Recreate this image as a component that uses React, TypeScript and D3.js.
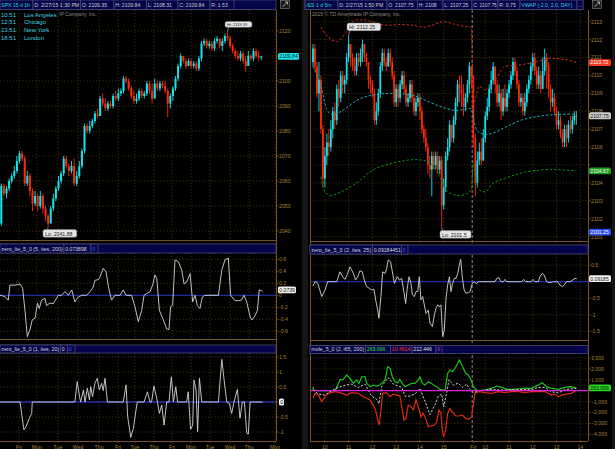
import React from 'react';
import * as d3 from 'd3';

// ---------------- DATA ----------------
// Left: SPX 15 d 1h candles (open of bar i = close of bar i-1)
const spxOpen0 = 2043;
const spxClose = [
  2058, 2055, 2057, 2060, 2062, 2064, 2068, 2071, 2069, 2059,
  2062, 2056, 2051, 2054, 2050, 2054, 2049, 2046, 2043, 2049,
  2053, 2057, 2060, 2063, 2069, 2066, 2064, 2066, 2059, 2062,
  2066, 2072, 2082, 2080, 2082, 2084, 2087, 2086, 2093, 2091,
  2089, 2091, 2090, 2094, 2093, 2095, 2096, 2101, 2100, 2097,
  2094, 2092, 2093, 2096, 2094, 2095, 2099, 2096, 2093, 2099,
  2097, 2099, 2098, 2096, 2091, 2094, 2097, 2101, 2106, 2110,
  2108, 2106, 2108, 2106, 2107, 2105, 2109, 2115, 2116, 2114,
  2115, 2113, 2116, 2117, 2114, 2116, 2118, 2117, 2114, 2112,
  2110, 2109, 2111, 2108, 2106, 2110, 2109, 2112, 2110, 2109.35,
  2109.84,
];
const spxHigh = [
  2059, 2059, 2058, 2061, 2063, 2066, 2070, 2072, 2072, 2070,
  2064, 2063, 2057, 2056, 2055, 2056, 2055, 2050, 2047, 2050,
  2055, 2058, 2062, 2064, 2070, 2070, 2067, 2068, 2069, 2064,
  2068, 2073, 2083, 2083, 2084, 2085, 2088, 2089, 2094, 2095,
  2093, 2092, 2092, 2095, 2096, 2097, 2097, 2102, 2102, 2101,
  2098, 2096, 2095, 2097, 2097, 2096, 2100, 2100, 2099, 2101,
  2100, 2100, 2100, 2100, 2097, 2095, 2098, 2102, 2107, 2111,
  2110, 2109, 2109, 2109, 2108, 2108, 2110, 2116, 2117, 2117,
  2116, 2116, 2117, 2118, 2117, 2117, 2119, 2119.59, 2118, 2115,
  2113, 2112, 2112, 2112, 2110, 2112, 2111, 2113, 2113, 2112,
  2110,
];
const spxLow = [
  2042, 2054, 2053, 2056, 2059, 2061, 2063, 2067, 2068, 2058,
  2058, 2054, 2048, 2050, 2048, 2049, 2047, 2044, 2041.88, 2043,
  2048, 2052, 2056, 2059, 2062, 2065, 2062, 2063, 2058, 2058,
  2061, 2065, 2071, 2079, 2079, 2081, 2083, 2085, 2086, 2090,
  2088, 2088, 2089, 2089, 2092, 2092, 2094, 2095, 2099, 2096,
  2093, 2091, 2091, 2092, 2093, 2093, 2094, 2095, 2091, 2093,
  2096, 2096, 2097, 2095, 2085.6, 2089, 2092, 2096, 2100, 2105,
  2107, 2105, 2106, 2105, 2105, 2104, 2104, 2108, 2114, 2113,
  2113, 2112, 2112, 2115, 2113, 2112, 2115, 2116, 2113, 2111,
  2109, 2108, 2108, 2107, 2103.7, 2106, 2108, 2108, 2109, 2108,
  2108.31,
];

// Right: /ES 1 d 5m candles
const esOpen0 = 2110.75;
const esClose = [
  2111.5, 2110.5, 2109, 2109.75, 2107, 2104.25, 2105.5, 2106.25, 2106, 2107,
  2108, 2107.5, 2109.25, 2108.75, 2110, 2109.5, 2109.75, 2111, 2111.75, 2111,
  2110.5, 2110.25, 2111, 2110.75, 2111.25, 2111.75, 2111, 2110.75, 2109.75, 2109.5,
  2109, 2107.5, 2108, 2109, 2110.5, 2111.25, 2110.75, 2110.5, 2111.25, 2110.75,
  2110, 2108.5, 2109.25, 2108.75, 2109.5, 2110, 2109.25, 2108.5, 2108.75, 2109.5,
  2108.75, 2108, 2108.5, 2108.75, 2108, 2107, 2106.5, 2106, 2105, 2104.75,
  2105.5, 2105, 2105.5, 2104.75, 2105.25, 2102.75, 2103.75, 2105.5, 2106, 2107.25,
  2106.5, 2107.5, 2108.5, 2109.5, 2109.25, 2109, 2108.25, 2108.75, 2109.5, 2110.5,
  2110, 2106.5, 2104, 2105.25, 2105.75, 2105.25, 2106.5, 2107.75, 2108.25, 2109.25,
  2109.75, 2110.5, 2109.5, 2108.5, 2109, 2108, 2108.75, 2108.25, 2109, 2109.5,
  2110, 2110.75, 2110.25, 2109.5, 2108.5, 2108.75, 2108, 2108.5, 2109.25, 2109.75,
  2110.5, 2111, 2110.25, 2109.5, 2110, 2109.25, 2110.25, 2111, 2110.5, 2109.25,
  2108.5, 2108.75, 2108, 2107.25, 2107.5, 2106.75, 2106.25, 2107, 2106.5, 2107.25,
  2107, 2107.5, 2107.75, 2107.75,
];
const esHigh = [
  2111.75, 2111.75, 2110.75, 2110.75, 2110, 2107.25, 2106, 2106.75, 2107, 2107.5,
  2108.25, 2108.5, 2109.5, 2109.75, 2110.25, 2110.25, 2110, 2111.25, 2112.25, 2111.75,
  2111.25, 2111, 2111.25, 2111.25, 2111.5, 2112, 2111.75, 2111.25, 2110.75, 2110,
  2109.75, 2109.25, 2108.5, 2109.25, 2110.75, 2111.5, 2111.5, 2111, 2111.5, 2111.5,
  2111, 2110.25, 2109.5, 2109.5, 2109.75, 2110.25, 2110.25, 2109.5, 2109, 2109.75,
  2109.75, 2109, 2108.75, 2109, 2109, 2108.25, 2107.25, 2107, 2106.25, 2105.5,
  2105.75, 2105.75, 2105.75, 2105.75, 2105.5, 2105.5, 2104.25, 2105.75, 2106.5, 2107.5,
  2107.25, 2107.75, 2108.75, 2109.75, 2110, 2110, 2109.5, 2109, 2109.75, 2110.75,
  2110.5, 2109.5, 2106.75, 2105.75, 2106.25, 2106.5, 2107, 2108, 2108.75, 2109.5,
  2110.25, 2110.75, 2110.5, 2109.75, 2109.5, 2109.25, 2109.25, 2109.5, 2109.25, 2109.75,
  2110.25, 2111, 2111, 2110.5, 2109.75, 2109, 2109, 2109, 2109.5, 2110,
  2110.75, 2111.25, 2111.25, 2110.5, 2110.5, 2110.25, 2111, 2111.5, 2111.25, 2110.75,
  2109.5, 2109.25, 2109, 2108.25, 2108, 2107.75, 2107, 2107.25, 2107.25, 2107.5,
  2107.75, 2107.75, 2108, 2108,
];
const esLow = [
  2110.5, 2110.25, 2108.75, 2108, 2106.75, 2103.75, 2103.75, 2105, 2105.5, 2105.75,
  2106.5, 2107, 2107.25, 2108.25, 2108.5, 2109, 2109, 2109.5, 2110.75, 2110.5,
  2110.25, 2110, 2110, 2110.5, 2110.5, 2110.75, 2110.75, 2110.5, 2109.25, 2109,
  2108.75, 2107.25, 2107.25, 2107.75, 2108.75, 2110.25, 2110.5, 2110.25, 2110.5, 2110.5,
  2109.75, 2108.25, 2108.25, 2108.25, 2108.5, 2109.25, 2109, 2108.25, 2108.25, 2108.5,
  2108.5, 2107.75, 2107.75, 2108.25, 2107.5, 2106.75, 2106.25, 2105.75, 2104.5, 2104.25,
  2103.25, 2104.75, 2104.75, 2104.5, 2104.5, 2101.5, 2102.5, 2103.5, 2105.25, 2105.75,
  2106.25, 2106.25, 2107.25, 2108.25, 2108.5, 2108.25, 2107.75, 2108, 2108.5, 2109,
  2109.25, 2106, 2103.25, 2103.75, 2105, 2105, 2105.25, 2106.25, 2107.5, 2108,
  2109, 2109.5, 2109, 2108.25, 2108.25, 2107.5, 2107.75, 2108, 2108, 2108.75,
  2109.25, 2109.75, 2110, 2109.25, 2108.25, 2108.25, 2107.75, 2107.75, 2108.25, 2109,
  2109.5, 2110.25, 2110, 2109.25, 2109.25, 2109, 2109.25, 2110, 2109.25, 2108.75,
  2108, 2108.25, 2107.75, 2107, 2107, 2106.5, 2106, 2106, 2106, 2106.25,
  2106.75, 2106.75, 2107.25, 2107.25,
];

// VWAP (-2.0, 2.0, DAY) : [bar, price]
const vwapUpper = [
  [4, 2112.7], [8, 2112.1], [12, 2111.9], [16, 2112.3], [19, 2112.9], [22, 2113.1], [26, 2113.1],
  [32, 2112.9], [38, 2112.8], [44, 2112.85], [50, 2112.8], [56, 2112.7], [60, 2112.8], [66, 2113],
  [70, 2112.9], [76, 2112.75], [80, 2112.7], [81, 2108.4], [84, 2109.4], [87, 2109.2], [90, 2109.4],
  [97, 2110.5], [105, 2110.6], [113, 2110.77], [120, 2110.95], [127, 2110.9], [133, 2110.72],
];
const vwapMid = [
  [0, 2110.5], [4, 2109.4], [7, 2108.1], [10, 2107.8], [15, 2108.05], [22, 2108.6], [30, 2108.9],
  [40, 2109], [50, 2108.9], [58, 2108.55], [66, 2108.2], [72, 2108.05], [80, 2108.15], [81, 2107.6],
  [83, 2106.9], [87, 2106.7], [90, 2106.75], [97, 2107.1], [105, 2107.5], [113, 2107.7], [120, 2107.8],
  [133, 2107.85],
];
const vwapLower = [
  [4, 2104.35], [6, 2103.5], [9, 2103.3], [14, 2103.5], [22, 2104], [30, 2104.7], [40, 2105.1],
  [52, 2105.3], [58, 2105.2], [64, 2104.35], [68, 2103.5], [74, 2103.3], [80, 2103.6], [81, 2105.2],
  [82, 2104.4], [84, 2103.6], [87, 2103.5], [90, 2103.9], [97, 2104.25], [105, 2104.55], [113, 2104.7],
  [120, 2104.75], [133, 2104.67],
];

// zero_lte_5_0 (5, ites, 200) : [hour-bar, value]
const zeroLeft1 = [
  [0, 0], [1.9, -0.02], [3.2, -0.08], [3.8, 0.17], [5.8, 0.17], [7.1, 0.18], [7.7, 0.19], [8.7, 0.12],
  [9.6, -0.25], [10.5, -0.69], [11.5, -0.58], [12.4, -0.41], [13.5, -0.38], [14.4, -0.13], [15.1, -0.22],
  [16, -0.08], [17.3, -0.05], [17.9, -0.17], [19.2, -0.13], [20.5, -0.14], [22.4, 0], [23.7, 0], [25, 0.06],
  [26.3, 0], [27.6, 0.09], [28.8, -0.11], [30.1, -0.03], [31.4, 0], [33.3, 0], [34.6, 0.06], [35.9, 0.14],
  [36.5, 0.25], [37.8, 0.26], [38.5, 0.31], [39.7, 0.45], [40.8, 0.39], [41.7, 0.14], [42.9, -0.08],
  [44.2, 0], [46.2, 0], [47.4, 0.09], [48.5, 0], [50.6, 0], [51.9, -0.19], [53.2, -0.44], [54.5, -0.25],
  [55.4, 0], [56.4, 0.03], [57.7, 0.06], [58.7, 0.17], [59.6, 0.34], [60.3, 0.28], [61.3, -0.25],
  [62.8, -0.41], [64.1, -0.56], [65, -0.57], [65.6, -0.19], [66.4, -0.17], [67.3, 0.59], [68.6, 0.56],
  [69.9, 0.42], [70.8, 0.19], [71.8, 0.22], [73.1, 0.36], [74.1, -0.11], [75, 0], [75.9, -0.17],
  [76.9, -0.22], [77.8, -0.03], [78.8, 0], [84, 0], [85.3, 0.42], [86.5, 0.59], [87.8, 0.62], [88.7, 0],
  [90.4, -0.09], [91.7, -0.09], [92.9, -0.08], [93.8, 0], [94.9, -0.11], [96.2, -0.36], [96.9, -0.41],
  [98.1, -0.34], [99, -0.25], [99.7, 0.09], [101, 0.07],
];
// zero_lte_5_0 (1, ites, 20)
const zeroLeft2 = [
  [0, 0], [7.7, 0], [8.3, -0.38], [9.2, -0.93], [10, -0.82], [11.3, -0.54], [12.2, -0.38], [12.4, 0],
  [28.8, 0], [29.7, 0.68], [30.5, 0.23], [31, 0], [32.1, 0.4], [32.7, 0], [33.6, 0.46], [34.4, 0.07],
  [34.9, 0.51], [35.6, 0.18], [36.5, 0.62], [37.4, 0.79], [38.2, 0.4], [39.1, 0.62], [39.7, 0.38],
  [40.4, 0.79], [41.3, 0], [47.4, 0], [48.5, 0.57], [49.1, -0.49], [50.3, -1.18], [51.3, -0.88],
  [52.3, -0.27], [52.8, 0], [55.4, 0], [56.7, 0.34], [57.7, 0], [58.3, 0], [59.2, 0.53], [60.3, 0.12],
  [61.3, -0.38], [62.2, -0.1], [63.1, -0.77], [64.1, 0], [65, 0], [65.9, 0.84], [66.7, 0], [67.6, 0.51],
  [68.3, 0], [71.8, 0], [72.4, 0.34], [73.3, -0.91], [74.1, -0.77], [74.6, 0.73], [75.4, 0.4], [76, -0.99],
  [76.7, 0.79], [77.6, 0], [84, 0], [85.3, 1.42], [86.2, 0.73], [87.2, 0], [88.2, -0.04], [89.1, -0.38],
  [90, 0], [91.3, 0.42], [92.3, -0.54], [93.2, 0], [94, 0], [94.9, -1.04], [95.5, -1.07], [96.2, 0], [101, 0],
];
// zero_lte_5_0 (2, ites, 25) : [5m bar, value]
const zeroRight1 = [
  [0, -0.13], [1, 0], [2.4, -0.05], [4.4, -0.45], [6.1, -0.25], [7.4, 0], [12, 0], [13.6, 0.3], [15, 0.15],
  [16.2, 0.07], [17.5, 0.25], [18.7, 0.45], [20.4, 0.25], [21.5, 0.05], [22.6, 0.15], [23.7, 0.33],
  [24.9, 0.3], [25.9, 0.05], [27.1, -0.15], [28.5, -0.2], [29.6, -0.25], [30.8, -0.23], [31.8, -0.6],
  [32.7, -0.86], [33.3, -1.11], [34.3, -0.45], [35.2, 0.3], [36.4, 0.25], [37.2, 0.4], [38, 0.66],
  [39.2, 0.6], [40.1, 0.3], [41.1, -0.05], [41.8, 0.05], [42.6, 0.15], [43.6, 0.05], [44.8, 0.1],
  [46, -0.35], [46.8, -0.66], [47.6, -0.2], [48.5, 0.15], [49.5, -0.05], [50.2, -0.4], [51.2, -0.45],
  [52, -0.3], [52.9, -0.3], [53.7, 0.15], [54.5, -0.55], [55.4, -0.45], [56.2, -0.7], [57.1, -0.96],
  [58.2, -0.86], [59.1, -1.26], [60.3, -1.36], [61.3, -1.0], [62.1, -0.81], [63, -0.7], [63.8, -0.76],
  [64.6, -0.7], [65.5, -1.67], [66.3, -1.47], [67.2, -0.5], [68, -0.1], [68.9, 0.15], [69.7, -0.3],
  [70.5, -0.05], [71.4, 0.1], [72.2, 0.1], [73.1, 0.25], [73.9, 0.5], [74.6, 0.68], [75.4, 0.15],
  [76.3, -0.25], [77.3, -0.35], [78.5, -0.33], [79.3, -0.3], [80.5, -0.05], [81.5, 0], [82.5, -0.07],
  [83.5, 0], [84.3, 0], [91.9, 0], [92.8, 0.1], [93.9, 0.12], [94.9, 0], [96.1, 0], [97, 0.07], [97.8, 0],
  [105.4, 0], [106.4, 0.07], [107.4, 0], [110.1, 0], [111.1, 0.07], [112.1, 0], [113.8, 0], [114.6, 0.15],
  [115.8, 0.25], [116.8, 0.2], [118, 0], [119.7, -0.03], [121.4, 0], [123.6, 0], [124.7, -0.1],
  [125.9, -0.15], [126.9, -0.1], [128.1, 0], [129.8, 0], [131.1, 0.05], [132.3, 0.1], [133.2, 0.09],
];
// mole_5_0 (2, i65, 200)
const moleGreen = [
  [0, 370], [0.2, 60], [2.7, 0], [11.1, 0], [12.5, 520], [13.6, 980], [15.3, 1040], [17, 1440], [18.7, 1130],
  [20.4, 670], [22.1, 980], [23.2, 670], [24.6, 1280], [26.3, 1280], [27.1, 670], [28.8, 370], [30.5, 520],
  [32.2, 430], [33.8, 520], [36.4, 980], [37.7, 2200], [38.9, 2050], [40.1, 1280], [41.4, 830], [42.8, 730],
  [43.9, 1040], [45.1, 670], [46.5, 370], [48.1, 520], [49.8, 670], [51.5, 670], [53.2, 980], [54, 1280],
  [55.2, 670], [56.6, 520], [58.2, 830], [59.9, 670], [61.6, 430], [63, 310], [64.1, 120], [65.3, 60],
  [66.7, 60], [68, 1590], [69.2, 1900], [70.4, 1740], [71.7, 2050], [73.1, 2510], [73.9, 2810], [74.7, 2510],
  [75.9, 2050], [77.1, 1590], [78.5, 1440], [79.8, 980], [81, 370], [82.2, 120], [83.5, 0], [86.9, 60],
  [90.2, 210], [92.8, 430], [95.3, 310], [97.8, 120], [100.3, 120], [103.7, 180], [107.1, 210], [110.4, 210],
  [113.8, 520], [115.8, 730], [118, 370], [120.5, 210], [123.9, 120], [127.3, 310], [129.8, 370],
  [132.3, 310], [133, 263.096],
];
const moleRed = [
  [0, -700], [1, -240], [2.7, -400], [4.4, -1000], [6.1, -550], [7.7, -240], [11.1, -90], [13.6, -180],
  [17, -400], [19.5, -180], [22.9, -240], [25.4, -550], [27.1, -700], [28.8, -860], [30.5, -1320],
  [31.6, -1770], [32.7, -2690], [33.5, -3150], [34.3, -1770], [35.2, -240], [37.2, -180], [38.9, -550],
  [40.6, -310], [42.3, -400], [43.9, -490], [44.8, -1470], [46, -2690], [47, -2540], [48.1, -1320],
  [49.5, -1470], [50.7, -1770], [52, -860], [53.2, -1470], [54.5, -2390], [55.7, -2080], [56.9, -2540],
  [58.2, -3300], [59.6, -3240], [61.3, -3150], [62.5, -2840], [63.6, -1770], [64.6, -2080], [65.3, -3610],
  [66, -4220], [67, -3610], [68, -2080], [69.2, -1620], [70.4, -1930], [72.1, -2320], [73.7, -2320],
  [75.4, -2230], [77.1, -2540], [78.8, -2630], [80.1, -2390], [81.1, -1160], [81.8, -240], [83.5, -90],
  [86.9, -180], [90.2, -240], [93.6, -90], [97, -180], [100.3, -90], [103.7, -90], [107.1, -180],
  [110.4, -90], [113.8, -90], [117.2, -90], [120.5, -400], [122.2, -310], [123.9, -550], [125.6, -400],
  [128.1, -310], [130.6, -240], [132.3, -10], [133, -10.46],
];
const moleNet = [
  [0, 100], [2.7, -300], [6.1, -400], [9.4, 0], [12.8, 300], [16.2, 500], [19.5, 600], [22.9, 300],
  [26.3, 600], [29.6, -500], [32.2, -800], [33.3, -1200], [34.7, 400], [38, 1200], [40.6, 600], [44.8, 300],
  [46.5, -500], [49, -500], [51.5, -300], [54, 200], [56.6, -1000], [59.1, -2200], [61.6, -1300],
  [63.3, -500], [65, -300], [66, -1500], [67.5, -200], [68.7, 1000], [70.9, 500], [73.4, 700], [75.4, 300],
  [77.6, 600], [79.3, 100], [81, -200], [83.5, 0], [90.2, 100], [97, 50], [103.7, 100], [110.4, 100],
  [113.8, 300], [117.2, 300], [120.5, -100], [123.9, -200], [127.3, 100], [132.3, 212], [133, 212.446],
];

// Axis ticks / labels
const leftDayLabels = ['Fri', 'Mon', 'Tue', 'Wed', 'Thu', 'Fri', 'Tue', 'Thu', 'Fri', 'Mon', 'Tue', 'Wed', 'Thu', 'Mon'];
const leftDayPos = [7.3, 14.2, 22.3, 30, 38.1, 45.4, 51.9, 59.2, 66.2, 73.5, 80.8, 88.5, 95.8, 105.8];
const rightTimeLabels = ['10', '11', '12', '13', '14', '15', 'Fri', '10', '11', '12', '13', '14'];
const rightTimePos = [6, 18, 30, 42, 54, 66, 81, 87, 99, 111, 123, 135];
const spxTicks = [2040, 2050, 2060, 2070, 2080, 2090, 2100, 2110, 2120];
const esTicks = [2101, 2102, 2103, 2104, 2105, 2106, 2107, 2108, 2109, 2110, 2111, 2112, 2113];
const zl1Ticks = [-0.6, -0.4, -0.2, 0, 0.2, 0.4, 0.6];
const zl2Ticks = [-1, -0.5, 0, 0.5, 1, 1.5];
const zr1Ticks = [-1.5, -1, -0.5, 0, 0.5];
const moleTicks = [-4000, -3000, -2000, -1000, 0, 1000, 2000, 3000];

const leftHeader = ['SPX 15 d 1h', 'D: 2/27/15 1:30 PM', 'O: 2109.35', 'H: 2109.84', 'L: 2108.31', 'C: 2109.84', 'R: 1.53'];
const rightHeader = ['/ES 1 d 5m', 'D: 2/27/15 1:50 PM', 'O: 2107.75', 'H: 2108', 'L: 2107.25', 'C: 2107.75', 'R: 0.75', 'VWAP (-2.0, 2.0, DAY)', '...'];
const clockTimes = ['10:51', '12:51', '13:51', '18:51'];
const clockCities = ['Los Angeles', 'Chicago', 'New York', 'London'];

// ---------------- STYLE ----------------
const FONT = "'Liberation Sans', Arial, sans-serif";
const GRID = '#5a4418';
const AXIS = '#7a5422';
const TICK = '#a8803c';
const UP = '#14e6ee';
const DOWN = '#ff2a08';
const FLAT = '#a8a8a8';
const NAVY = '#04044a';
const HDR_BORDER = '#4a4a70';

type Pt = number[];

function FitText({ x, y, text, fs, fill, avail }: any) {
  const est = text.length * fs * 0.5;
  const props: any = {};
  if (est > avail) { props.textLength = avail; props.lengthAdjust = 'spacingAndGlyphs'; }
  return <text x={x} y={y} fontSize={fs} fill={fill} {...props}>{text}</text>;
}

function Header({ x0, x1, y0, y1, edges, texts, colors }: any) {
  return (
    <g>
      <rect x={x0} y={y0} width={x1 - x0} height={y1 - y0} fill={NAVY} stroke={HDR_BORDER} strokeWidth={0.8} />
      {texts.map((t: string, i: number) => (
        <g key={i}>
          <rect x={edges[i]} y={y0} width={edges[i + 1] - edges[i]} height={y1 - y0} fill={NAVY} stroke={HDR_BORDER} strokeWidth={0.8} />
          <FitText x={edges[i] + 1.3} y={y1 - 2.4} fs={5.1} fill={colors[i]} text={t} avail={edges[i + 1] - edges[i] - 2.6} />
        </g>
      ))}
    </g>
  );
}

function Grid({ xs, ys, x0, x1, y0, y1 }: any) {
  return (
    <g stroke={GRID} strokeWidth={0.8} strokeDasharray="1,2.2">
      {xs.map((x: number, i: number) => <line key={'v' + i} x1={x} x2={x} y1={y0} y2={y1} />)}
      {ys.map((y: number, i: number) => <line key={'h' + i} x1={x0} x2={x1} y1={y} y2={y} />)}
    </g>
  );
}

function YTicks({ ticks, y, x, fmt, hide = [] }: any) {
  return (
    <g fontSize={5.2} fill={TICK}>
      {ticks.map((t: number, i: number) => (
        <g key={i}>
          <line x1={x - 1} x2={x + 1.5} y1={y(t)} y2={y(t)} stroke={AXIS} strokeWidth={0.8} />
          {hide.includes(t) ? null : <text x={x + 2} y={y(t) + 1.9}>{fmt(t)}</text>}
        </g>
      ))}
    </g>
  );
}

function Candles({ open0, close, high, low, cx, y, bw }: any) {
  return (
    <g>
      {close.map((c: number, i: number) => {
        const o = i === 0 ? open0 : close[i - 1];
        const col = c > o ? UP : c < o ? DOWN : FLAT;
        const x = cx(i);
        const top = y(Math.max(o, c));
        const bot = y(Math.min(o, c));
        return (
          <g key={i}>
            <line x1={x} x2={x} y1={y(high[i])} y2={y(low[i])} stroke={col} strokeWidth={0.9} />
            <rect x={x - bw / 2} y={top} width={bw} height={Math.max(0.8, bot - top)} fill={col} />
          </g>
        );
      })}
    </g>
  );
}

function ValueBox({ x, y, w, text, fill, color }: any) {
  return (
    <g>
      <rect x={x} y={y - 3.4} width={w} height={6.8} rx={1.5} fill={fill} />
      <text x={x + 1.3} y={y + 1.9} fontSize={5.1} fill={color}>{text}</text>
    </g>
  );
}

function HiLo({ x, y, px, py, text, fs }: any) {
  const w = text.length * fs * 0.52 + 4;
  return (
    <g>
      <line x1={px} x2={x + 4} y1={py} y2={y} stroke="#bbb" strokeWidth={0.6} />
      <rect x={x} y={y - fs * 0.75} width={w} height={fs * 1.45} rx={2} fill="#e6e6e6" stroke="#888" strokeWidth={0.5} />
      <text x={x + 2} y={y + fs * 0.4} fontSize={fs} fill="#222">{text}</text>
    </g>
  );
}

export default function App() {
  // Left panel scales
  const LX0 = 0, LX1 = 276;
  const xL = d3.scaleLinear().domain([0, 106.15]).range([LX0, LX1]);
  const yLp = d3.scaleLinear().domain([2040, 2120]).range([231, 31]);
  const yL1 = d3.scaleLinear().domain([-0.6, 0.6]).range([331.3, 259.3]);
  const yL2 = d3.scaleLinear().domain([-1, 1.5]).range([432, 357]);
  // Right panel scales
  const RX0 = 310, RX1 = 588;
  const xR = d3.scaleLinear().domain([-1.515, 138.89]).range([RX0, RX1]);
  const yRp = d3.scaleLinear().domain([2101, 2113]).range([236.7, 21.7]);
  const yR1 = d3.scaleLinear().domain([-1.5, 0.5]).range([331.2, 265.2]);
  const yR2 = d3.scaleLinear().domain([-4000, 3000]).range([434.3, 358]);

  const lineOf = (x: any, y: any, curve: any = d3.curveMonotoneX) =>
    d3.line<Pt>().x((d) => x(d[0])).y((d) => y(d[1])).curve(curve);
  const linL = (y: any) => d3.line<Pt>().x((d) => xL(d[0])).y((d) => y(d[1]));
  const linR = (y: any) => d3.line<Pt>().x((d) => xR(d[0])).y((d) => y(d[1]));

  const lvx = leftDayPos.map((p) => xL(p));
  const rvx = rightTimePos.filter((p) => p !== 81).map((p) => xR(p));

  const P = { top: 10, pBot: 240, h1Top: 244, h1Bot: 253, i1Bot: 339, h2Top: 345, h2Bot: 353, i2Bot: 441 };
  const R = { top: 10, pBot: 241, h1Top: 245, h1Bot: 254, i1Bot: 340, h2Top: 345.5, h2Bot: 353.5, i2Bot: 441 };

  const fmtK = (v: number) => d3.format(',')(v);
  const fmtN = (v: number) => String(v);

  const iHi = spxHigh.indexOf(d3.max(spxHigh) as number);
  const iLo = spxLow.indexOf(d3.min(spxLow) as number);
  const jHi = esHigh.indexOf(d3.max(esHigh) as number);
  const jLo = esLow.indexOf(d3.min(esLow) as number);

  return (
    <svg width={615} height={449} style={{ position: 'absolute', left: 0, top: 0 }} fontFamily={FONT}>
      <rect width={615} height={449} fill="#000" />
      <defs>
        <clipPath id="cLp"><rect x={LX0} y={P.top} width={LX1 - LX0} height={P.pBot - P.top} /></clipPath>
        <clipPath id="cL1"><rect x={LX0} y={P.h1Bot} width={LX1 - LX0} height={P.i1Bot - P.h1Bot} /></clipPath>
        <clipPath id="cL2"><rect x={LX0} y={P.h2Bot} width={LX1 - LX0} height={P.i2Bot - P.h2Bot} /></clipPath>
        <clipPath id="cRp"><rect x={RX0} y={R.top} width={RX1 - RX0} height={R.pBot - R.top} /></clipPath>
        <clipPath id="cR1"><rect x={RX0} y={R.h1Bot} width={RX1 - RX0} height={R.i1Bot - R.h1Bot} /></clipPath>
        <clipPath id="cR2"><rect x={RX0} y={R.h2Bot} width={RX1 - RX0} height={R.i2Bot - R.h2Bot} /></clipPath>
      </defs>

      <rect x={302} y={0} width={6} height={449} fill="#161616" />
      <rect x={612} y={0} width={3} height={449} fill="#161616" />

      {/* ================= LEFT PANEL ================= */}
      <Grid xs={lvx} ys={spxTicks.map(yLp)} x0={LX0} x1={LX1} y0={P.top} y1={P.pBot} />
      <Grid xs={lvx} ys={zl1Ticks.map(yL1)} x0={LX0} x1={LX1} y0={P.h1Bot} y1={P.i1Bot} />
      <Grid xs={lvx} ys={zl2Ticks.map(yL2)} x0={LX0} x1={LX1} y0={P.h2Bot} y1={P.i2Bot} />

      <text x={59} y={15.5} fontSize={5} fill="#8a8a8a">IP Company, Inc.</text>
      {clockTimes.map((t, i) => (
        <g key={i} fontSize={6} fill="#3ccfe0">
          <text x={1} y={16.8 + i * 7.6}>{t}</text>
          <text x={24} y={16.8 + i * 7.6}>{clockCities[i]}</text>
        </g>
      ))}

      <g clipPath="url(#cLp)">
        <Candles open0={spxOpen0} close={spxClose} high={spxHigh} low={spxLow} cx={(i: number) => xL(i + 0.5)} y={yLp} bw={2} />
      </g>
      <HiLo x={225} y={24.5} px={xL(iHi + 0.5)} py={yLp(spxHigh[iHi])} text={`Hi: ${spxHigh[iHi]}`} fs={4} />
      <HiLo x={43} y={233.5} px={xL(iLo + 0.5)} py={yLp(spxLow[iLo])} text={`Lo: ${spxLow[iLo]}`} fs={5.2} />

      <g clipPath="url(#cL1)">
        <line x1={LX0} x2={LX1} y1={yL1(0)} y2={yL1(0)} stroke="#2036c8" strokeWidth={1} />
        <path d={linL(yL1)(zeroLeft1 as any) as string} fill="none" stroke="#d6d6d6" strokeWidth={0.9} />
      </g>
      <g clipPath="url(#cL2)">
        <line x1={LX0} x2={LX1} y1={yL2(0)} y2={yL2(0)} stroke="#2a44ff" strokeWidth={1.2} />
        <path d={linL(yL2)(zeroLeft2 as any) as string} fill="none" stroke="#d6d6d6" strokeWidth={0.9} />
      </g>

      <g stroke={AXIS} strokeWidth={1}>
        <line x1={LX1 + 0.5} x2={LX1 + 0.5} y1={P.top} y2={P.i2Bot} />
        <line x1={0} x2={LX1} y1={P.pBot + 0.5} y2={P.pBot + 0.5} />
        <line x1={0} x2={LX1} y1={P.i1Bot + 0.5} y2={P.i1Bot + 0.5} />
        <line x1={0} x2={LX1} y1={P.i2Bot + 0.5} y2={P.i2Bot + 0.5} />
      </g>
      <YTicks ticks={spxTicks} y={yLp} x={LX1 + 1} fmt={fmtN} hide={[2110]} />
      <YTicks ticks={zl1Ticks} y={yL1} x={LX1 + 1} fmt={fmtN} />
      <YTicks ticks={zl2Ticks} y={yL2} x={LX1 + 1} fmt={fmtN} hide={[0]} />
      <ValueBox x={278} y={yLp(spxClose[spxClose.length - 1])} w={21} text="2109.84" fill="#1ee4ee" color="#002020" />
      <ValueBox x={278} y={yL1(0.0739) - 1} w={18} text="0.0739" fill="#f0f0f0" color="#111" />
      <ValueBox x={279} y={yL2(0)} w={5} text="0" fill="#f0f0f0" color="#111" />

      {leftDayLabels.map((t, i) => (
        <g key={i}>
          <line x1={xL(leftDayPos[i])} x2={xL(leftDayPos[i])} y1={P.i2Bot} y2={P.i2Bot + 2} stroke={AXIS} strokeWidth={0.8} />
          <text x={xL(leftDayPos[i])} y={448.5} fontSize={5.2} fill={TICK} textAnchor="middle">{t}</text>
        </g>
      ))}

      <Header x0={0} x1={LX1} y0={0} y1={9.5}
        edges={[0, 33, 80.5, 114, 146.5, 178, 210, 234]} texts={leftHeader}
        colors={['#25d6c0', '#d0d0d0', '#d0d0d0', '#d0d0d0', '#d0d0d0', '#d0d0d0', '#d0d0d0']} />
      <Header x0={0} x1={LX1} y0={P.h1Top} y1={P.h1Bot}
        edges={[0, 64, 91, 98]} texts={['zero_lte_5_0 (5, ites, 200)', '0.073898', '0']}
        colors={['#d8d8d8', '#d8d8d8', '#3a5cff']} />
      <Header x0={0} x1={LX1} y0={P.h2Top} y1={P.h2Bot}
        edges={[0, 60.5, 67.5, 75]} texts={['zero_lte_5_0 (1, ites, 20)', '0', '0']}
        colors={['#d8d8d8', '#d8d8d8', '#3a5cff']} />
      <rect x={280.5} y={0.5} width={9} height={8} fill="#1a1a1a" stroke="#888" strokeWidth={0.6} />
      <path d="M282.5,7 L287.5,2 M285,2 L287.5,2 L287.5,4.5" stroke="#ddd" strokeWidth={0.7} fill="none" />

      {/* ================= RIGHT PANEL ================= */}
      <Grid xs={rvx} ys={esTicks.map(yRp)} x0={RX0} x1={RX1} y0={R.top} y1={R.pBot} />
      <Grid xs={rvx} ys={zr1Ticks.map(yR1)} x0={RX0} x1={RX1} y0={R.h1Bot} y1={R.i1Bot} />
      <Grid xs={rvx} ys={moleTicks.map(yR2)} x0={RX0} x1={RX1} y0={R.h2Bot} y1={R.i2Bot} />
      <line x1={xR(80.4)} x2={xR(80.4)} y1={R.top} y2={R.i2Bot} stroke="#8a8a8a" strokeWidth={1} strokeDasharray="3,2" />

      <text x={312} y={15.5} fontSize={5} fill="#8a8a8a">2015 © TD Ameritrade IP Company, Inc.</text>

      <g clipPath="url(#cRp)">
        <Candles open0={esOpen0} close={esClose} high={esHigh} low={esLow} cx={(i: number) => xR(i)} y={yRp} bw={1.7} />
        <path d={lineOf(xR, yRp)(vwapUpper as any) as string} fill="none" stroke="#c8281c" strokeWidth={1} strokeDasharray="2.5,1.8" />
        <path d={lineOf(xR, yRp)(vwapMid as any) as string} fill="none" stroke="#1fb0b4" strokeWidth={1} strokeDasharray="2.5,1.8" />
        <path d={lineOf(xR, yRp)(vwapLower as any) as string} fill="none" stroke="#148a14" strokeWidth={1} strokeDasharray="2.5,1.8" />
      </g>
      <HiLo x={347} y={27} px={xR(jHi)} py={yRp(esHigh[jHi])} text={`Hi: ${esHigh[jHi]}`} fs={5.2} />
      <HiLo x={440} y={234.5} px={xR(jLo)} py={yRp(esLow[jLo])} text={`Lo: ${esLow[jLo]}`} fs={5.2} />

      <g clipPath="url(#cR1)">
        <line x1={RX0} x2={RX1} y1={yR1(0)} y2={yR1(0)} stroke="#2036c8" strokeWidth={1} />
        <path d={linR(yR1)(zeroRight1 as any) as string} fill="none" stroke="#d6d6d6" strokeWidth={0.9} />
      </g>
      <g clipPath="url(#cR2)">
        <path d={lineOf(xR, yR2, d3.curveLinear)(moleGreen as any) as string} fill="none" stroke="#1cc41c" strokeWidth={1.2} />
        <path d={lineOf(xR, yR2, d3.curveLinear)(moleRed as any) as string} fill="none" stroke="#dc2a10" strokeWidth={1.2} />
        <path d={lineOf(xR, yR2, d3.curveLinear)(moleNet as any) as string} fill="none" stroke="#e6e6e6" strokeWidth={0.9} strokeDasharray="2.2,1.6" />
        <line x1={RX0} x2={RX1} y1={yR2(0)} y2={yR2(0)} stroke="#d624d6" strokeWidth={1.2} />
      </g>

      <g stroke={AXIS} strokeWidth={1}>
        <line x1={RX0 + 0.5} x2={RX0 + 0.5} y1={R.top} y2={R.i2Bot} />
        <line x1={RX1 + 0.5} x2={RX1 + 0.5} y1={R.top} y2={R.i2Bot} />
        <line x1={RX0} x2={RX1} y1={R.pBot + 0.5} y2={R.pBot + 0.5} />
        <line x1={RX0} x2={RX1} y1={R.i1Bot + 0.5} y2={R.i1Bot + 0.5} />
        <line x1={RX0} x2={RX1} y1={R.i2Bot + 0.5} y2={R.i2Bot + 0.5} />
      </g>
      <YTicks ticks={esTicks} y={yRp} x={RX1 + 1} fmt={fmtN} hide={[2105]} />
      <YTicks ticks={zr1Ticks} y={yR1} x={RX1 + 1} fmt={fmtN} hide={[0]} />
      <YTicks ticks={moleTicks} y={yR2} x={RX1 + 1} fmt={fmtK} hide={[0]} />
      <ValueBox x={589} y={yRp(2110.72)} w={22} text="2110.72" fill="#ee3a22" color="#fff" />
      <ValueBox x={589} y={yRp(esClose[esClose.length - 1])} w={22} text="2107.75" fill="#c8c8c8" color="#111" />
      <ValueBox x={589} y={yRp(2104.67)} w={22} text="2104.67" fill="#1e9a1e" color="#fff" />
      <ValueBox x={589} y={yRp(2101.25)} w={22} text="2101.25" fill="#2e4cf0" color="#fff" />
      <ValueBox x={589} y={yR1(0.09185)} w={22} text="0.09185" fill="#f0f0f0" color="#111" />
      <ValueBox x={589} y={yR2(263.096)} w={22} text="263.096" fill="#28d228" color="#002000" />

      {rightTimeLabels.map((t, i) => (
        <g key={i}>
          <line x1={xR(rightTimePos[i])} x2={xR(rightTimePos[i])} y1={R.i2Bot} y2={R.i2Bot + 2} stroke={AXIS} strokeWidth={0.8} />
          <text x={xR(rightTimePos[i])} y={448.5} fontSize={5.2} fill={TICK} textAnchor="middle">{t}</text>
        </g>
      ))}

      <Header x0={305} x1={583} y0={0} y1={9.5}
        edges={[305, 338, 387, 417.5, 443, 472, 498, 520, 577, 583]} texts={rightHeader}
        colors={['#25d6c0', '#d0d0d0', '#d0d0d0', '#d0d0d0', '#d0d0d0', '#d0d0d0', '#d0d0d0', '#38d0e0', '#d0d0d0']} />
      <Header x0={RX0} x1={RX1} y0={R.h1Top} y1={R.h1Bot}
        edges={[RX0, 372.5, 401.5, 408]} texts={['zero_lte_5_0 (2, ites, 25)', '0.09184451', '0']}
        colors={['#d8d8d8', '#d8d8d8', '#3a5cff']} />
      <Header x0={RX0} x1={RX1} y0={R.h2Top} y1={R.h2Bot}
        edges={[RX0, 365.5, 390.5, 412, 436, 442]} texts={['mole_5_0 (2, i65, 200)', '263.096', '10.4614', '212.446', '0']}
        colors={['#d8d8d8', '#2ee02e', '#ff3030', '#e0e0e0', '#c040ff']} />
      <rect x={592.5} y={0.5} width={9} height={8} fill="#1a1a1a" stroke="#888" strokeWidth={0.6} />
      <path d="M594.5,7 L599.5,2 M597,2 L599.5,2 L599.5,4.5" stroke="#ddd" strokeWidth={0.7} fill="none" />
    </svg>
  );
}
